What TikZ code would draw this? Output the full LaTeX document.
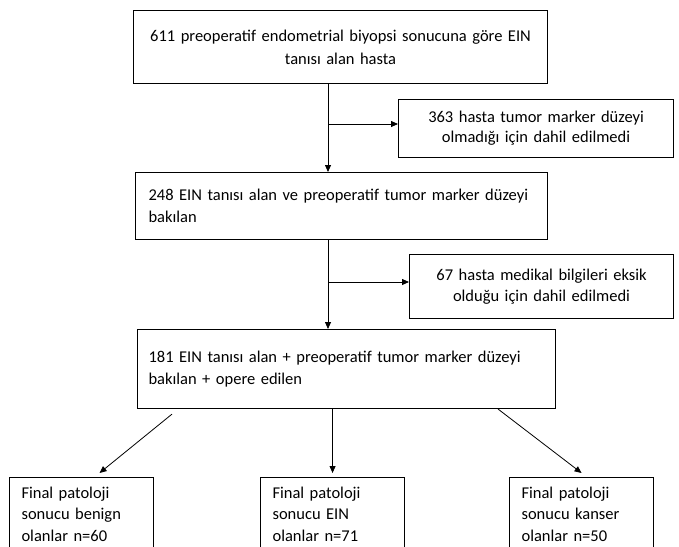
\documentclass[tikz,border=0pt]{standalone}
\usepackage{fontspec}
\setmainfont{Carlito}
\usetikzlibrary{arrows.meta}

\tikzset{
  flowbox/.style={draw, rectangle, line width=1.1pt, anchor=north west, inner ysep=0pt,
    font=\fontsize{16.5}{21.5}\selectfont},
  resultbox/.style={flowbox, inner xsep=12pt, inner ysep=9pt, text width=120pt, align=left},
  link/.style={line width=0.8pt, -{Triangle[length=7pt,width=6pt]}},
}

\begin{document}
\begin{tikzpicture}[x=1pt, y=-1pt]
    \useasboundingbox (0,0) rectangle (679,546);
    \clip (0,0) rectangle (679,546);

    % main column
    \node[flowbox, minimum width=414pt, minimum height=73pt, text width=390pt, align=center,
      font=\fontsize{16.5}{23}\selectfont] (pre) at (133,10) {
      611 preoperatif endometrial biyopsi sonucuna göre EIN\\ tanısı alan hasta
    };
    \node[flowbox, minimum width=412pt, minimum height=67pt, inner xsep=13pt, text width=386pt, align=left] (tested) at (135,172) {
      248 EIN tanısı alan ve preoperatif tumor marker düzeyi\\ bakılan
    };
    \node[flowbox, minimum width=418pt, minimum height=79pt, inner xsep=11pt, text width=396pt, align=left] (operated) at (137,329) {
      181 EIN tanısı alan + preoperatif tumor marker düzeyi\\ bakılan + opere edilen
    };

    % excluded
    \node[flowbox, minimum width=275pt, minimum height=58pt, text width=255pt, align=center,
      font=\fontsize{16.5}{20}\selectfont] (nomarker) at (398,99) {
      363 hasta tumor marker düzeyi\\ olmadığı için dahil edilmedi
    };
    \node[flowbox, minimum width=264pt, minimum height=64pt, text width=244pt, align=center] (missing) at (409,254) {
      67 hasta medikal bilgileri eksik\\ olduğu için dahil edilmedi
    };

    % final pathology
    \node[resultbox] (benign) at (9,477) {Final patoloji\\ sonucu benign\\ olanlar n=60};
    \node[resultbox] (ein) at (260,477) {Final patoloji\\ sonucu EIN\\ olanlar n=71};
    \node[resultbox] (cancer) at (509,477) {Final patoloji\\ sonucu kanser\\ olanlar n=50};

    \coordinate (split1) at (328,124);
    \coordinate (split2) at (328,282);

    \draw[link] (pre.south -| split1) -- (tested.north -| split1);
    \draw[link] (split1) -- (nomarker.west |- split1);
    \draw[link] (tested.south -| split2) -- (operated.north -| split2);
    \draw[link] (split2) -- (missing.west |- split2);

    \draw[link] ([xshift=35pt,yshift=-5pt]operated.south west) -- ([xshift=18pt,yshift=4pt]benign.north);
    \draw[link] (operated.south -| ein.north) -- ([yshift=4pt]ein.north);
    \draw[link] ([xshift=-58pt]operated.south east) -- ([yshift=4pt]cancer.north);
  \end{tikzpicture}
\end{document}
